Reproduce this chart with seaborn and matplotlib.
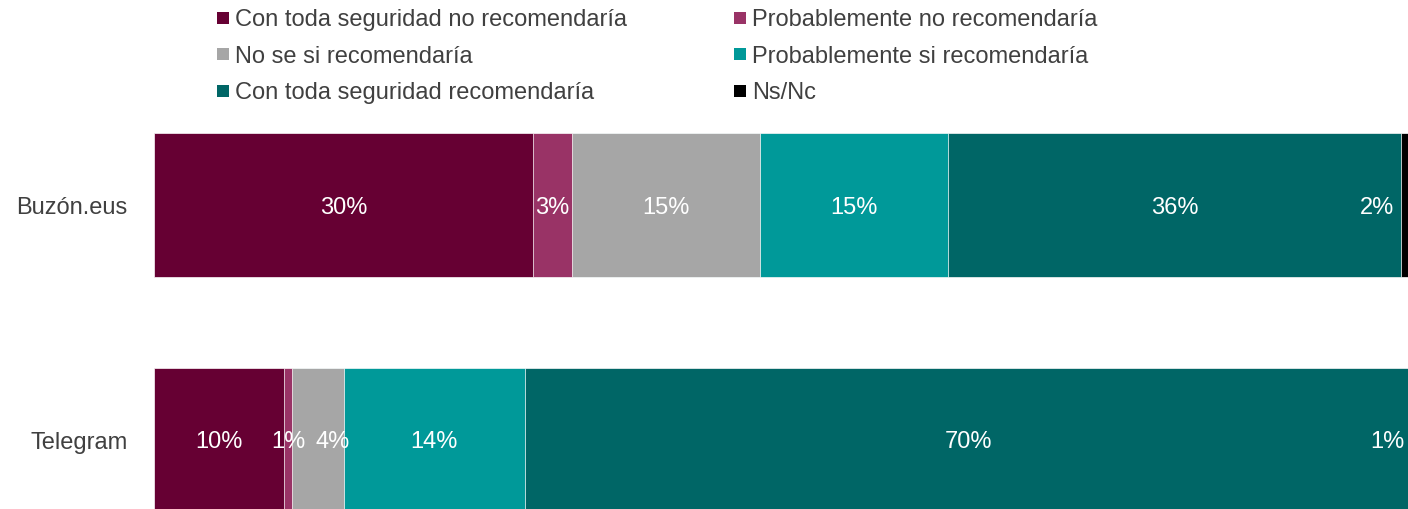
import matplotlib
matplotlib.use("Agg")
import matplotlib.pyplot as plt
import seaborn as sns
import pandas as pd
from matplotlib.lines import Line2D

platforms = ["Buzón.eus", "Telegram"]
categories = [
    "Con toda seguridad no recomendaría",
    "Probablemente no recomendaría",
    "No se si recomendaría",
    "Probablemente si recomendaría",
    "Con toda seguridad recomendaría",
    "Ns/Nc",
]
buzon = [29.9, 3.1, 14.9, 14.8, 35.8, 1.5]
telegram = [10.3, 0.6, 4.1, 14.3, 70.0, 0.7]
colors = ["#660033", "#993366", "#A6A6A6", "#009999", "#006666", "#000000"]

sns.set_theme(style="white")
plt.rcParams['font.family'] = ['Liberation Sans', 'DejaVu Sans']

W, H = 1408, 509
fig = plt.figure(figsize=(W / 100, H / 100), dpi=100)
ax = fig.add_axes([154 / W, 1 - 557.5 / H, 1266 / W, 470 / H])

rows = []
for p, vals in zip(platforms, [buzon, telegram]):
    start = 0.0
    for c, v in zip(categories, vals):
        rows.append({"platform": p, "category": c, "value": v,
                     "start": start, "end": start + v})
        start += v
df = pd.DataFrame(rows)

for c, col in reversed(list(zip(categories, colors))):
    sub = df[df["category"] == c]
    sns.barplot(data=sub, x="end", y="platform", order=platforms, orient="h",
                color=col, saturation=1, width=0.617, edgecolor="white",
                linewidth=0.5, ax=ax)

n = len(categories)
for yi, p in enumerate(platforms):
    sub = df[df["platform"] == p].reset_index(drop=True)
    prev = None
    for i, r in sub.iterrows():
        x = r["start"] + r["value"] / 2
        if i == n - 1:
            x = min(x, r["start"] - 1.9)
        if prev is not None and x - prev < 3.5:
            x = prev + 3.5
        prev = x
        ax.text(x, yi, f"{r['value']:.0f}%", ha="center", va="center_baseline",
                color="white", fontsize=17)

ax.set_xlim(0, 100)
ax.set_ylim(1.5, -0.5)
ax.set_xticks([])
ax.set_xlabel("")
ax.set_ylabel("")
ax.tick_params(axis="y", length=0, pad=19, labelsize=17, labelcolor="#404040")
sns.despine(ax=ax, left=True, bottom=True)

handles = [Line2D([], [], marker="s", linestyle="none", markersize=9,
                  markerfacecolor=c, markeredgewidth=0) for c in colors]
for k, xl in enumerate([216, 733]):
    fig.legend(handles[k::2], categories[k::2], loc="upper left",
               bbox_to_anchor=(xl / W, 1 - 9 / H), frameon=False,
               fontsize=17, handlelength=0.6, handletextpad=0.2,
               labelspacing=0.62, borderpad=0, borderaxespad=0,
               labelcolor="#404040")

fig.savefig("out.png", dpi=100)
